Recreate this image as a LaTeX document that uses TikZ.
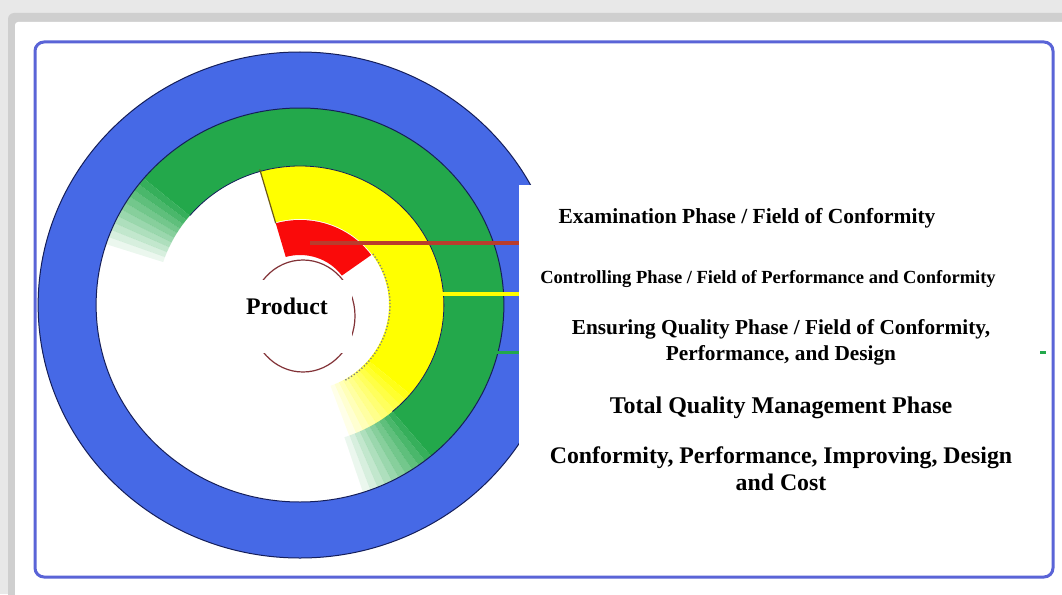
\documentclass[tikz,border=0pt]{standalone}
\usepackage{fontspec}
\setmainfont{Liberation Serif}
\usepackage{xcolor}
\usepackage{tikz}
\usetikzlibrary{positioning,calc}

\definecolor{ringblue}{RGB}{70,105,230}
\definecolor{ringgreen}{RGB}{35,168,75}
\definecolor{ringyellow}{RGB}{255,255,0}
\definecolor{ringred}{RGB}{250,10,10}
\definecolor{edgeblue}{RGB}{90,100,215}
\definecolor{outline}{RGB}{20,30,90}
\definecolor{linered}{RGB}{185,60,45}
\definecolor{radial}{RGB}{110,90,20}
\definecolor{productbrown}{RGB}{130,50,55}

\begin{document}
\begin{tikzpicture}[x=1pt,y=1pt,
    phase/.style={inner sep=0pt, anchor=base, align=center}]
    \useasboundingbox (0,0) rectangle (1062,-594);
    \clip (0,0) rectangle (1062,-594);
    % Page
    \fill[gray!18] (0,0) rectangle (1062,-594);
    \fill[gray!38, rounded corners=6pt] (8,-13) rectangle (1080,-610);
    \fill[white, rounded corners=3pt] (15,-22) rectangle (1080,-610);
    \draw[edgeblue, line width=3pt, rounded corners=9pt] (35,-42) rectangle (1053,-577);

    % Rings
    \begin{scope}[shift={(300,-305)}, xscale=1.035]
        \fill[ringblue, draw=outline, line width=1pt] (0,0) circle (253);
        \fill[white] (0,0) circle (197);
        % Green ring
        \fill[ringgreen] (140:197) arc (140:-50:197) -- (-50:139) arc (-50:140:139) -- cycle;
        \foreach \i in {1,...,10} {
            \pgfmathsetmacro\angA{137.8+2.2*\i}
            \pgfmathsetmacro\angB{140+2.2*\i}
            \pgfmathsetmacro\op{1-\i/11}
            \fill[ringgreen, opacity=\op] (\angA:197) arc (\angA:\angB:197) -- (\angB:139) arc (\angB:\angA:139) -- cycle;
        }
        \foreach \i in {1,...,10} {
            \pgfmathsetmacro\angA{-47.8-2.2*\i}
            \pgfmathsetmacro\angB{-50-2.2*\i}
            \pgfmathsetmacro\op{1-\i/11}
            \fill[ringgreen, opacity=\op] (\angA:197) arc (\angA:\angB:197) -- (\angB:139) arc (\angB:\angA:139) -- cycle;
        }
        % Yellow ring
        \fill[ringyellow] (106:139) arc (106:-40:139) -- (-40:86) arc (-40:106:86) -- cycle;
        \foreach \i in {1,...,10} {
            \pgfmathsetmacro\angA{-37-3*\i}
            \pgfmathsetmacro\angB{-40-3*\i}
            \pgfmathsetmacro\op{1-\i/11}
            \fill[ringyellow, opacity=\op] (\angA:139) arc (\angA:\angB:139) -- (\angB:86) arc (\angB:\angA:86) -- cycle;
        }
        \draw[outline, line width=1pt] (0,0) circle (197);
        \draw[outline, line width=0.8pt] (140:139) arc (140:-50:139);
        % Red ring
        \fill[ringred] (106:50) -- (106:85) arc (106:36:85) -- (36:50) arc (36:106:50) -- cycle;
        \draw[radial, line width=1.2pt] (106:85) -- (106:141);
        \draw[gray, dotted, line width=1.3pt] (36:87) arc (36:-60:87);
    \end{scope}
    \draw[productbrown, line width=1.2pt] (303,-316) ellipse [x radius=52, y radius=56];

    % Connectors
    \coordinate (boxedge) at (519,-185);
    \coordinate (redpt) at (310,-243);
    \coordinate (yellowpt) at (433,-294);
    \coordinate (greenpt) at (497,-352);
    \coordinate (greenend) at (1046,-352);
    \draw[linered, line width=4pt] (redpt) -- (redpt -| boxedge);
    \draw[ringyellow, line width=3.5pt] (yellowpt) -- (yellowpt -| boxedge);
    \draw[ringgreen, line width=3pt] (greenpt) -- (greenend);

    % Labels
    \node[fill=white, inner sep=0pt, minimum width=521pt, minimum height=385pt, anchor=north west] (textbox) at (boxedge) {};
    \node[phase, font=\bfseries\fontsize{21.5}{26}\selectfont] (exam) at (747,-223) {Examination Phase / Field of Conformity};
    \node[phase, font=\bfseries\fontsize{18.5}{22}\selectfont] (ctrl) at (768,-283) {Controlling Phase / Field of Performance and Conformity};
    \node[phase, font=\bfseries\fontsize{21.3}{26}\selectfont] (ensure) at (781,-360) {Ensuring Quality Phase / Field of Conformity,\\Performance, and Design};
    \node[phase, font=\bfseries\fontsize{24}{28}\selectfont] (tqm) at (781,-413) {Total Quality Management Phase};
    \node[phase, font=\bfseries\fontsize{23.8}{27}\selectfont] (cost) at (781,-490) {Conformity, Performance, Improving, Design\\and Cost};

    \node[fill=white, inner sep=0pt, minimum width=130pt, text height=34pt, text depth=39pt, anchor=base,
        font=\bfseries\fontsize{23.8}{28}\selectfont] (product) at (287,-314) {Product};
\end{tikzpicture}
\end{document}
